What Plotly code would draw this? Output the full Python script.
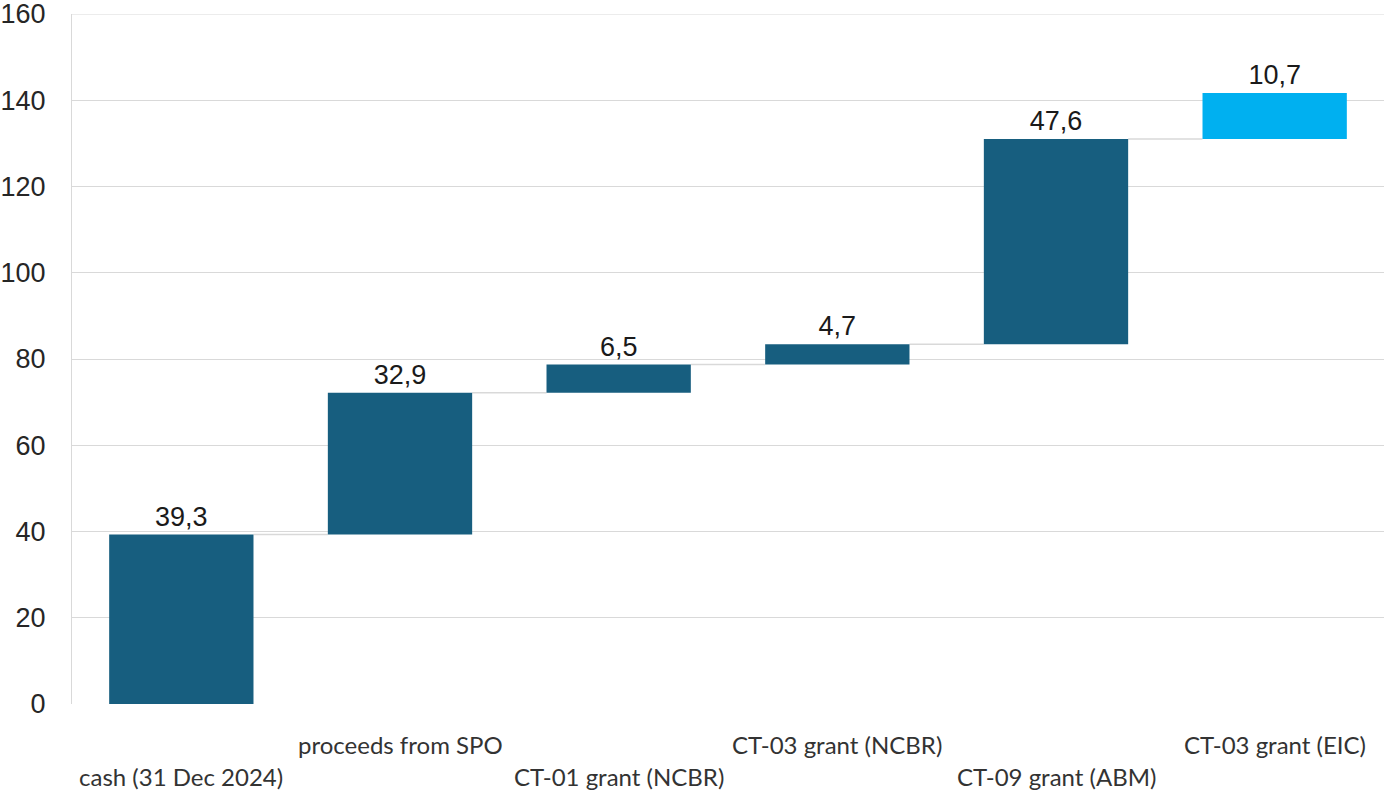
import plotly.graph_objects as go
import numpy as np

categories = ["cash (31 Dec 2024)", "proceeds from SPO", "CT-01 grant (NCBR)",
              "CT-03 grant (NCBR)", "CT-09 grant (ABM)", "CT-03 grant (EIC)"]
values = [39.3, 32.9, 6.5, 4.7, 47.6, 10.7]
bar_colors = ["#175E7F", "#175E7F", "#175E7F", "#175E7F", "#175E7F", "#00B0F0"]
y_ticks = [0, 20, 40, 60, 80, 100, 120, 140, 160]

vals = np.array(values)
tops = np.cumsum(vals)
bases = tops - vals
xpos = np.arange(len(categories))
bar_w = 0.66

labels = [f"{v:.1f}".replace(".", ",") for v in values]

fig = go.Figure()
fig.add_trace(go.Bar(
    x=xpos, y=vals, base=bases, width=bar_w,
    marker=dict(color=bar_colors, line=dict(width=0)),
    text=labels, textposition="outside", cliponaxis=False,
    textfont=dict(family="Liberation Sans, Arial", size=27, color="#1a1a1a"),
    hoverinfo="skip",
))

# connector lines between consecutive bars
for i in range(len(categories) - 1):
    fig.add_shape(type="line", xref="x", yref="y",
                  x0=xpos[i] + bar_w / 2, x1=xpos[i + 1] - bar_w / 2,
                  y0=tops[i], y1=tops[i],
                  line=dict(color="#D9D9D9", width=1.5), layer="below")

# top gridline at the upper axis limit
fig.add_shape(type="line", xref="paper", yref="y", x0=0, x1=1,
              y0=y_ticks[-1], y1=y_ticks[-1],
              line=dict(color="#D9D9D9", width=1), layer="below")

# staggered category labels
for i, c in enumerate(categories):
    fig.add_annotation(x=xpos[i], y=0, xref="x", yref="paper",
                       text=c, showarrow=False, yanchor="middle",
                       yshift=-72 if i % 2 == 0 else -40,
                       font=dict(family="Lato, Noto Sans", size=24, color="#333333"))

fig.update_layout(
    width=1384, height=792,
    margin=dict(l=72, r=0, t=14, b=88),
    plot_bgcolor="white", paper_bgcolor="white",
    showlegend=False,
    xaxis=dict(range=[-0.5, len(categories) - 0.5], showticklabels=False,
               showgrid=False, zeroline=False, showline=False, ticks=""),
    yaxis=dict(range=[0, 160], tickvals=y_ticks, showgrid=True,
               gridcolor="#D9D9D9", gridwidth=1, zeroline=False,
               showline=True, linecolor="#D9D9D9", linewidth=1,
               ticks="", ticklabelstandoff=20, ticklabeloverflow="allow",
               tickfont=dict(family="Liberation Sans, Arial", size=27, color="#262626")),
)

fig.write_html("out.html")
